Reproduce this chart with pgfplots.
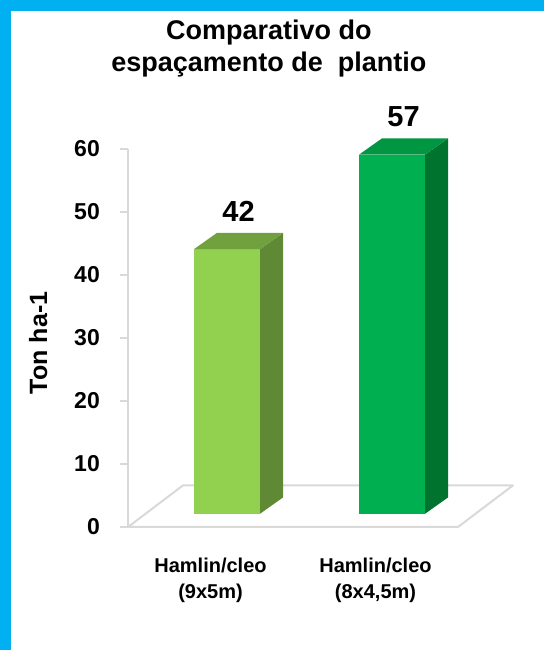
\documentclass[border=0pt]{standalone}
\usepackage{pgfplots}
\pgfplotsset{compat=1.18}
\usepackage{fontspec}
\setmainfont{Liberation Sans}

\definecolor{frame}{HTML}{00B0F0}
\definecolor{floorgray}{HTML}{D9D9D9}
\definecolor{lgfront}{HTML}{92D050}
\definecolor{lgside}{HTML}{5F8934}
\definecolor{lgtop}{HTML}{71A03E}
\definecolor{gfront}{HTML}{00B050}
\definecolor{gside}{HTML}{00732F}
\definecolor{gtop}{HTML}{009642}

% bar geometry (axis units)
\def\bw{0.2}   % half width of bar front
\def\bsx{0.1}  % bar front offset into depth
\def\bsy{2.1}
\def\dpx{0.14} % bar depth
\def\dpy{2.6}

% #1 center, #2 value, #3 front, #4 side, #5 top
\newcommand\drawbar[5]{%
  \pgfmathsetmacro\xl{#1-\bw+\bsx}%
  \pgfmathsetmacro\xr{#1+\bw+\bsx}%
  \pgfmathsetmacro\xlb{\xl+\dpx}%
  \pgfmathsetmacro\xrb{\xr+\dpx}%
  \pgfmathsetmacro\yb{\bsy}%
  \pgfmathsetmacro\yt{\bsy+#2}%
  \pgfmathsetmacro\ybb{\bsy+\dpy}%
  \pgfmathsetmacro\ytb{\bsy+#2+\dpy}%
  \pgfmathsetmacro\xm{(\xl+\xrb)/2}%
  \edef\temp{%
    \noexpand\addplot[fill=#3, draw=none] coordinates {(\xl,\yb) (\xr,\yb) (\xr,\yt) (\xl,\yt)};
    \noexpand\addplot[fill=#4, draw=none] coordinates {(\xr,\yb) (\xrb,\ybb) (\xrb,\ytb) (\xr,\yt)};
    \noexpand\addplot[fill=#5, draw=none] coordinates {(\xl,\yt) (\xr,\yt) (\xrb,\ytb) (\xlb,\ytb)};
    \noexpand\addplot[draw=none, mark=none, nodes near coords={\noexpand\pgfplotspointmeta},
      point meta=explicit symbolic] coordinates {(\xm,\ytb) [#2]};
  }%
  \temp
}

\begin{document}
\begin{tikzpicture}
\fill[frame] (0pt,0pt) rectangle (544pt,650pt);
\fill[white] (11pt,0pt) rectangle (544pt,639pt);
\begin{axis}[
    at={(128pt,123pt)}, anchor=south west,
    scale only axis, width=330pt, height=378pt,
    xmin=0, xmax=2, ymin=0, ymax=60,
    clip=false,
    axis lines*=left,
    x axis line style={draw=none},
    y axis line style={draw=floorgray, line width=1.6pt},
    ytick={0,10,...,60},
    xtick={0.5,1.5},
    xticklabels={{Hamlin/cleo\\(9x5m)},{Hamlin/cleo\\(8x4,5m)}},
    tick align=outside,
    major tick length=8pt,
    major y tick style={draw=floorgray, line width=1.6pt},
    major x tick style={draw=none},
    /pgf/number format/assume math mode=true,
    yticklabel style={font=\bfseries\fontsize{23}{23}\selectfont, inner sep=0pt, xshift=-20pt},
    xticklabel style={font=\bfseries\fontsize{20}{26}\selectfont, align=center,
      anchor=north, inner sep=0pt, yshift=-23pt},
    ylabel={Ton ha-1},
    every axis y label/.style={at={(axis description cs:-0.272,0.487)}, rotate=90,
      anchor=center, font=\bfseries\fontsize{25}{25}\selectfont},
    title={Comparativo do\\espaçamento de~~plantio},
    title style={at={(axis description cs:0.427,1.327)}, anchor=north, align=center,
      inner sep=0pt, font=\bfseries\fontsize{27}{32}\selectfont},
    every node near coord/.append style={font=\bfseries\fontsize{29}{29}\selectfont,
      anchor=south, inner sep=0pt, yshift=11.5pt, text=black},
  ]
% floor
\addplot[draw=floorgray, line width=2pt, line join=round] coordinates {(0,0) (2,0) (2.333,6.6) (0.333,6.6) (0,0)};
\drawbar{0.5}{42}{lgfront}{lgside}{lgtop}
\drawbar{1.5}{57}{gfront}{gside}{gtop}
\end{axis}
\end{tikzpicture}
\end{document}
